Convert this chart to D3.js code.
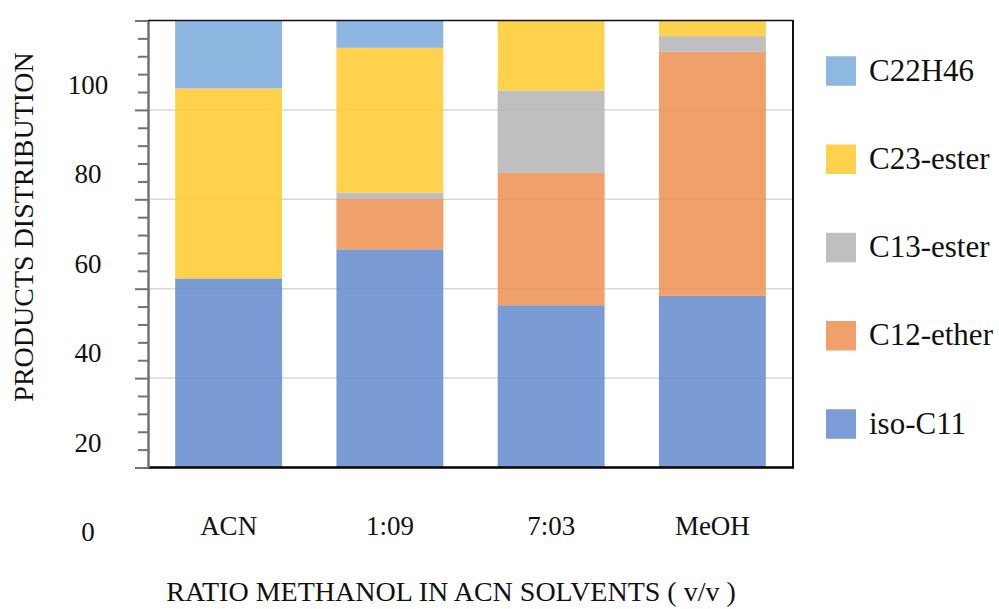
<!DOCTYPE html>
<html>
<head>
<meta charset="utf-8">
<script src="https://cdn.jsdelivr.net/npm/d3@7"></script>
<style>
  html, body { margin: 0; padding: 0; background: #fff; }
  svg { display: block; }
  svg text { font-family: 'Liberation Serif', 'Times New Roman', serif !important; }
</style>
</head>
<body>
<svg id="chart" width="999" height="609"></svg>
<script>
// ---- data ----
const categories = ["ACN", "1:09", "7:03", "MeOH"];
const seriesNames = ["iso-C11", "C12-ether", "C13-ester", "C23-ester", "C22H46"];
const isoC11   = [42.3, 48.8, 36.3, 38.4];
const c12Ether = [0, 11.3, 29.6, 54.6];
const c13Ester = [0, 1.4, 18.4, 3.5];
const c23Ester = [42.5, 32.4, 15.7, 3.5];
const c22H46   = [15.2, 6.1, 0, 0];
const yTickValues = [0, 20, 40, 60, 80, 100];
const legendOrder = ["C22H46", "C23-ester", "C13-ester", "C12-ether", "iso-C11"];
const xTitle = "RATIO METHANOL IN ACN SOLVENTS ( v/v )";
const yTitle = "PRODUCTS DISTRIBUTION";

// ---- styles ----
const FONT = "'Liberation Serif', 'Times New Roman', serif";
const barColors = {"iso-C11": "#648acc", "C12-ether": "#ed8f50", "C13-ester": "#b4b4b4", "C23-ester": "#ffca2e", "C22H46": "#79aadb"};
const swatchColors = {"iso-C11": "#7b9cd4", "C12-ether": "#f0a06a", "C13-ester": "#bfbfbf", "C23-ester": "#ffd24d", "C22H46": "#8db8e0"};

const seriesValues = {"iso-C11": isoC11, "C12-ether": c12Ether, "C13-ester": c13Ester, "C23-ester": c23Ester, "C22H46": c22H46};
const rows = categories.map((c, i) => {
  const r = {cat: c};
  seriesNames.forEach(s => r[s] = seriesValues[s][i]);
  return r;
});

const svg = d3.select("#chart").attr("font-family", FONT);
const L = 148, R = 793, T = 20.5, B = 467.5;

const x = d3.scaleBand().domain(categories).range([L, R]).paddingInner(0.337).paddingOuter(0.1685);
const y = d3.scaleLinear().domain([0, 100]).range([B, T]);

// gridlines
svg.append("g").selectAll("line").data([20, 40, 60, 80]).join("line")
  .attr("x1", L).attr("x2", R)
  .attr("y1", d => y(d)).attr("y2", d => y(d))
  .attr("stroke", "#d9d9d9").attr("stroke-width", 1.5);

// bars
const stacked = d3.stack().keys(seriesNames)(rows);
svg.append("g").selectAll("g").data(stacked).join("g")
  .attr("fill", d => barColors[d.key])
  .attr("fill-opacity", 0.85)
  .selectAll("rect").data(d => d.filter(p => p[1] - p[0] > 0)).join("rect")
  .attr("x", d => x(d.data.cat))
  .attr("width", x.bandwidth())
  .attr("y", d => y(d[1]))
  .attr("height", d => y(d[0]) - y(d[1]));

// frame: top, right, bottom
svg.append("line").attr("x1", L).attr("x2", R).attr("y1", T).attr("y2", T)
  .attr("stroke", "#111").attr("stroke-width", 1.5);
svg.append("line").attr("x1", R).attr("x2", R).attr("y1", T - 0.5).attr("y2", B + 1)
  .attr("stroke", "#111").attr("stroke-width", 2);
svg.append("line").attr("x1", L).attr("x2", R + 1).attr("y1", B).attr("y2", B)
  .attr("stroke", "#000").attr("stroke-width", 2.5);

// y axis: minor ticks
const minorTicks = d3.range(0, 101, 4).filter(v => v % 20 !== 0);
svg.append("g").attr("transform", `translate(${L},0)`)
  .call(d3.axisLeft(y).tickValues(minorTicks).tickSize(10).tickFormat(""))
  .call(g => g.select(".domain").remove())
  .call(g => g.selectAll(".tick line").attr("stroke", "#767171").attr("stroke-width", 2));

// y axis: major ticks + labels (labels sit lower than their ticks, as in the reference)
const yAxisG = svg.append("g").attr("transform", `translate(${L},0)`)
  .call(d3.axisLeft(y).tickValues(yTickValues).tickSize(13).tickSizeOuter(0).tickFormat(d3.format("d")))
  .attr("font-family", FONT);
yAxisG.select(".domain").attr("stroke", "#767171").attr("stroke-width", 2.5);
yAxisG.selectAll(".tick line").attr("stroke", "#767171").attr("stroke-width", 2);
yAxisG.selectAll(".tick text")
  .attr("x", 88 - L).attr("dy", null).attr("y", 73)
  .attr("text-anchor", "middle")
  .attr("font-family", FONT)
  .attr("font-size", 27).attr("fill", "#111");

// x axis labels
const xAxisG = svg.append("g").attr("transform", `translate(0,${B})`)
  .call(d3.axisBottom(x).tickSize(0).tickPadding(0))
  .attr("font-family", FONT);
xAxisG.select(".domain").remove();
xAxisG.selectAll(".tick text")
  .attr("y", 535 - B).attr("dy", null)
  .attr("font-family", FONT)
  .attr("font-size", 27).attr("fill", "#111");

// axis titles
svg.append("text").attr("x", 451).attr("y", 601).attr("text-anchor", "middle")
  .attr("font-family", FONT).attr("font-size", 28).attr("fill", "#111").text(xTitle);
svg.append("text").attr("transform", "translate(33,227) rotate(-90)").attr("text-anchor", "middle")
  .attr("font-family", FONT).attr("font-size", 28).attr("fill", "#111").text(yTitle);

// legend
const ly = d3.scalePoint().domain(legendOrder).range([71, 424]);
const lg = svg.append("g").selectAll("g").data(legendOrder).join("g")
  .attr("transform", d => `translate(826,${ly(d)})`);
lg.append("rect").attr("x", 0).attr("y", -14.75).attr("width", 30).attr("height", 29.5)
  .attr("fill", d => swatchColors[d]);
lg.append("text").attr("x", 43).attr("y", 9.5).attr("font-family", FONT)
  .attr("font-size", 31).attr("fill", "#111").text(d => d);
</script>
</body>
</html>
